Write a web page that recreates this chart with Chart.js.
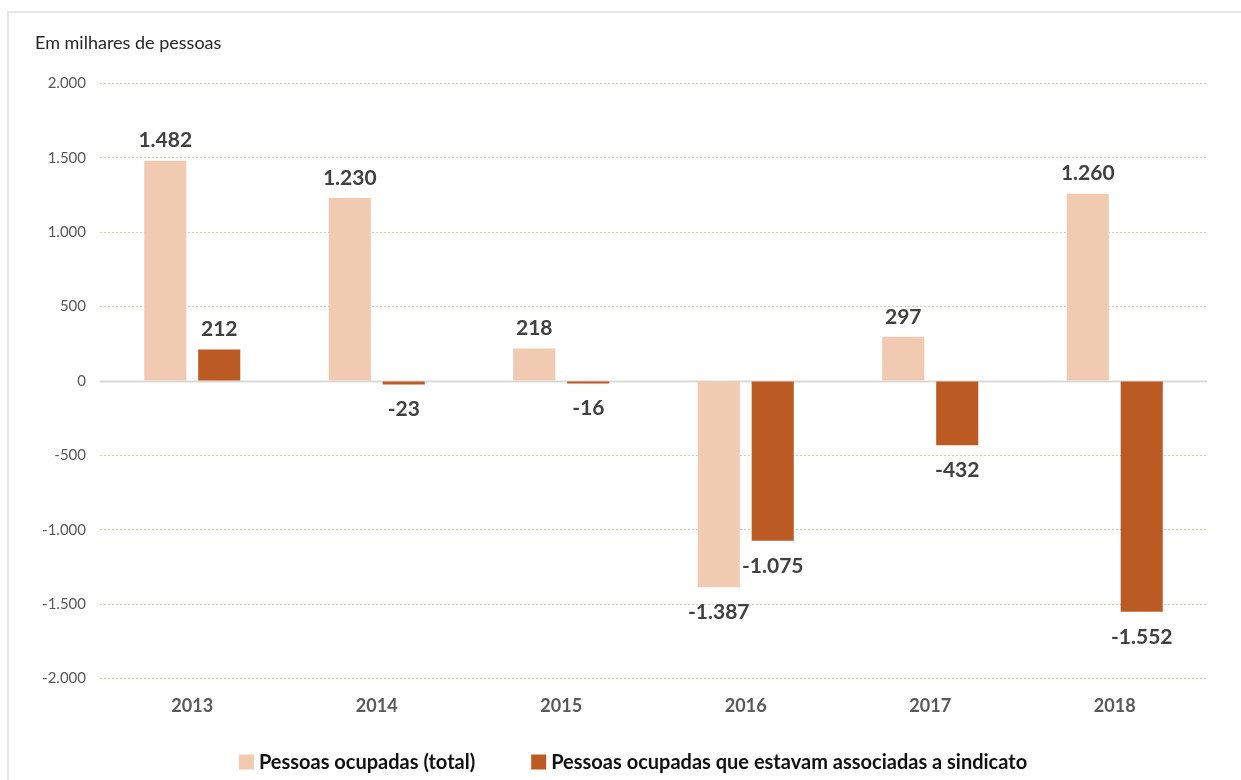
<!DOCTYPE html>
<html>
<head>
<meta charset="utf-8">
<script src="https://cdn.jsdelivr.net/npm/chart.js@4/dist/chart.umd.min.js"></script>
<style>
  html, body { margin: 0; padding: 0; background: #fff; }
  #frame { position: absolute; left: 7px; top: 11px; width: 1240px; height: 780px; border: 2px solid #e6e6e6; box-sizing: border-box; }
  #wrap { position: absolute; left: 0; top: 0; width: 1241px; height: 780px; }
</style>
</head>
<body>
<div id="frame"></div>
<div id="wrap"><canvas id="chart"></canvas></div>
<script>
const years = ['2013', '2014', '2015', '2016', '2017', '2018'];
const totalOcupadas = [1482, 1230, 218, -1387, 297, 1260];
const sindicalizadas = [212, -23, -16, -1075, -432, -1552];
const seriesNames = ['Pessoas ocupadas (total)', 'Pessoas ocupadas que estavam associadas a sindicato'];
const yTicks = [-2000, -1500, -1000, -500, 0, 500, 1000, 1500, 2000];

const fmt = v => v.toLocaleString('pt-BR');
const FONT = 'Lato, "Open Sans", sans-serif';

// valores escritos acima/abaixo de cada barra
const barLabels = {
  id: 'barLabels',
  afterDatasetsDraw(chart) {
    const ctx = chart.ctx;
    ctx.save();
    ctx.font = 'bold 21px ' + FONT;
    ctx.fillStyle = '#404040';
    ctx.textAlign = 'center';
    ctx.textBaseline = 'middle';
    chart.data.datasets.forEach((ds, i) => {
      chart.getDatasetMeta(i).data.forEach((bar, j) => {
        const v = ds.data[j];
        const y = v >= 0 ? bar.y - 20 : bar.y + 25;
        ctx.fillText(fmt(v), bar.x, y);
      });
    });
    ctx.restore();
  }
};

// linha do zero contínua (as demais ficam pontilhadas)
const zeroLine = {
  id: 'zeroLine',
  beforeDatasetsDraw(chart) {
    const { ctx, chartArea, scales } = chart;
    const y = Math.round(scales.y.getPixelForValue(0)) + 0.5;
    ctx.save();
    ctx.strokeStyle = '#d9d9d9';
    ctx.lineWidth = 2;
    ctx.beginPath();
    ctx.moveTo(chartArea.left, y);
    ctx.lineTo(chartArea.right, y);
    ctx.stroke();
    ctx.restore();
  }
};

// legenda embaixo, com espaço largo entre os itens
const bottomLegend = {
  id: 'bottomLegend',
  afterDraw(chart) {
    const ctx = chart.ctx;
    const box = 15, gapText = 5, gapItem = 56;
    ctx.save();
    ctx.font = 'bold 20px ' + FONT;
    ctx.textBaseline = 'middle';
    const items = chart.data.datasets.map(ds => ({ text: ds.label, color: ds.backgroundColor, w: ctx.measureText(ds.label).width }));
    const total = items.reduce((s, it) => s + box + gapText + it.w, 0) + gapItem * (items.length - 1);
    let x = 633 - total / 2;
    const y = 762;
    items.forEach(it => {
      ctx.fillStyle = it.color;
      ctx.fillRect(x, y - box / 2, box, box);
      x += box + gapText;
      ctx.fillStyle = '#111';
      ctx.fillText(it.text, x, y + 1);
      x += it.w + gapItem;
    });
    ctx.restore();
  }
};

new Chart(document.getElementById('chart'), {
  type: 'bar',
  data: {
    labels: years,
    datasets: [
      { label: seriesNames[0], data: totalOcupadas, backgroundColor: '#f0cbb1' },
      { label: seriesNames[1], data: sindicalizadas, backgroundColor: '#bb5b23' }
    ]
  },
  options: {
    responsive: true,
    maintainAspectRatio: false,
    animation: false,
    categoryPercentage: 0.585,
    barPercentage: 0.78,
    layout: { padding: { left: 35, right: 34, top: 32, bottom: 54 } },
    plugins: {
      title: {
        display: true,
        text: 'Em milhares de pessoas',
        align: 'start',
        color: '#262626',
        font: { family: FONT, size: 18, weight: 'normal' },
        padding: { top: 0, bottom: 30 }
      },
      legend: { display: false },
      tooltip: { enabled: false }
    },
    scales: {
      x: {
        grid: { display: false },
        border: { display: false },
        ticks: { color: '#595959', font: { family: FONT, size: 18, weight: 'bold' }, padding: 9 }
      },
      y: {
        min: yTicks[0],
        max: yTicks[yTicks.length - 1],
        afterFit(scale) { scale.width = 65; },
        afterBuildTicks(scale) { scale.ticks = yTicks.map(v => ({ value: v })); },
        border: { display: false, dash: [2, 2] },
        grid: {
          color: ctx => ctx.tick && ctx.tick.value === 0 ? 'rgba(0,0,0,0)' : '#d3d3bd',
          lineWidth: 1,
          drawTicks: false
        },
        ticks: {
          color: '#595959',
          font: { family: FONT, size: 15 },
          padding: 14,
          callback: v => fmt(v)
        }
      }
    }
  },
  plugins: [barLabels, zeroLine, bottomLegend]
});
</script>
</body>
</html>
